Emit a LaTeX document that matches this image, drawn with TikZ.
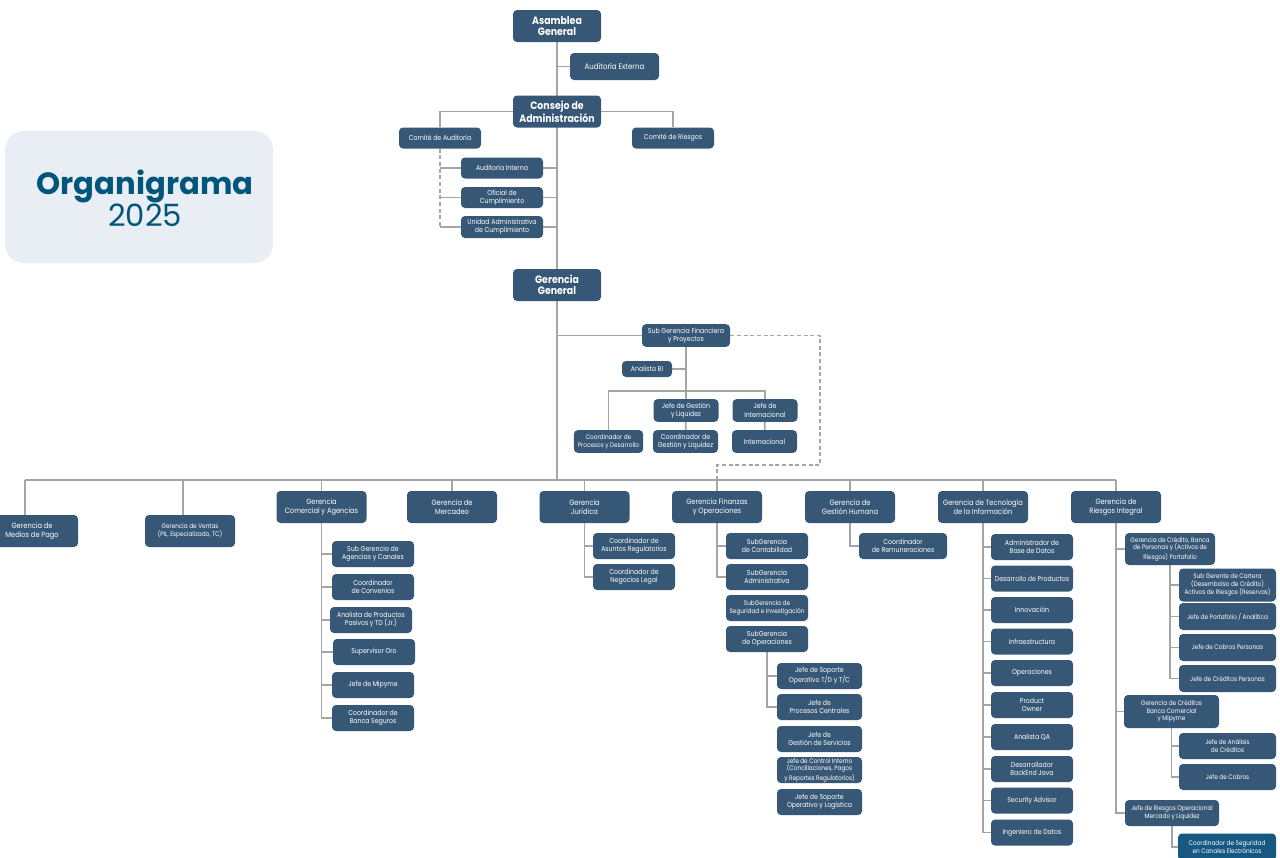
\documentclass[tikz,border=0pt]{standalone}
\usepackage{fontspec}
\setmainfont{Poppins}
\newfontfamily\narrowsans[FakeStretch=0.88]{Poppins}
\usetikzlibrary{backgrounds}
\definecolor{orgblue}{RGB}{54, 87, 118}
\definecolor{tealbox}{RGB}{22, 88, 130}
\definecolor{linegray}{RGB}{165, 165, 165}
\definecolor{titlebg}{RGB}{233, 238, 244}
\definecolor{titletext}{RGB}{0, 85, 122}

\begin{document}
\begin{tikzpicture}[
  x=0.75pt, y=-0.75pt,
  unit/.style={rectangle, rounded corners=3pt, fill=orgblue, text=white, align=center, inner sep=0.5pt, font=\narrowsans\fontsize{5.3}{6.3}\selectfont},
  fine/.style={font=\narrowsans\fontsize{4.9}{5.8}\selectfont},
  head/.style={unit, font=\narrowsans\bfseries\fontsize{8}{8.3}\selectfont, minimum width=66pt, minimum height=24pt},
  gerencia/.style={unit, font=\narrowsans\fontsize{5.7}{6.6}\selectfont, minimum width=67.5pt, minimum height=24pt},
  staff/.style={unit, minimum width=61.5pt, minimum height=19.5pt},
  link/.style={draw=linegray, line width=1.4pt},
  dashlink/.style={link, dash pattern=on 3pt off 2pt}
]
  \useasboundingbox (0,0) rectangle (1280,857);

  % title
  \node[rectangle, rounded corners=14pt, fill=titlebg, minimum width=201pt, minimum height=99pt] (titlebox) at (139,197) {};
  \node[text=titletext, align=center, font=\fontsize{23}{24}\selectfont] (title) at (145,198) {\textbf{Organigrama}\\2025};

  % governance
  \node[head] (asamblea) at (557,26) {Asamblea\\General};
  \node[unit, font=\narrowsans\fontsize{6}{7}\selectfont, minimum width=66.75pt, minimum height=20.25pt] (audext) at (614.5,66.5) {Auditoría Externa};
  \node[head] (consejo) at (557,111.5) {Consejo de\\Administración};
  \node[staff, minimum height=15.75pt] (comaud) at (440,138) {Comité de Auditoría};
  \node[staff, minimum height=15.75pt] (comries) at (673,138) {Comité de Riesgos};
  \node[staff, minimum height=15.75pt] (audint) at (502,168) {Auditoría Interna};
  \node[staff, minimum height=15.75pt] (oficial) at (502,197.5) {Oficial de\\Cumplimiento};
  \node[staff, minimum height=16.5pt] (unidad) at (502,227) {Unidad Administrativa\\de Cumplimiento};
  \node[head] (gerencia) at (557,285) {Gerencia\\General};

  % sub gerencia financiera
  \node[unit, minimum width=66pt, minimum height=17pt] (subfin) at (686,335.5) {Sub Gerencia Financiera\\y Proyectos};
  \node[unit, minimum width=37.5pt, minimum height=12pt] (analistabi) at (647,369) {Analista BI};
  \node[unit, minimum width=48.75pt, minimum height=17pt] (jefegest) at (686,410.5) {Jefe de Gestión\\y Liquidez};
  \node[unit, minimum width=48.75pt, minimum height=17pt] (jefeint) at (765,410.5) {Jefe de\\Internacional};
  \node[unit, fine, minimum width=52pt, minimum height=17pt] (coordproc) at (608.5,441.5) {Coordinador de\\Procesos y Desarrollo};
  \node[unit, minimum width=48.75pt, minimum height=17pt] (coordgest) at (685.5,441.5) {Coordinador de\\Gestión y Liquidez};
  \node[unit, minimum width=48.75pt, minimum height=17pt] (intl) at (764.5,441.5) {Internacional};
  \coordinate (finbus) at (686,391);
  \coordinate (dashturn) at (820,465);

  % gerencias
  \coordinate (bus) at (557,480);
  \coordinate (busleft) at (25,480);
  \node[gerencia, minimum width=69pt] (medios) at (32,531) {Gerencia de\\Medios de Pago};
  \node[gerencia, fine] (ventas) at (190,531) {Gerencia de Ventas\\(PIL, Especializado, TC)};
  \node[gerencia] (comercial) at (321.5,507) {Gerencia\\Comercial y Agencias};
  \node[gerencia] (mercadeo) at (452,507) {Gerencia de\\Mercadeo};
  \node[gerencia] (juridica) at (584.5,507) {Gerencia\\Jurídica};
  \node[gerencia] (finanzas) at (717,507) {Gerencia Finanzas\\y Operaciones};
  \node[gerencia] (humana) at (850,507) {Gerencia de\\Gestión Humana};
  \node[gerencia] (tecnologia) at (983,507) {Gerencia de Tecnología\\de la Información};
  \node[gerencia] (riesgos) at (1116,507) {Gerencia de\\Riesgos Integral};

  % comercial
  \node[staff] (subagen) at (373,554) {Sub Gerencia de\\Agencias y Canales};
  \node[staff] (convenios) at (373,587) {Coordinador\\de Convenios};
  \node[staff] (pasivos) at (371,620) {Analista de Productos\\Pasivos y TD (Jr.)};
  \node[staff] (oro) at (374,652) {Supervisor Oro};
  \node[staff] (mipyme) at (373,685) {Jefe de Mipyme};
  \node[staff] (bancaseg) at (373,718) {Coordinador de\\Banca Seguros};

  % juridica
  \node[staff] (asuntos) at (634,546) {Coordinador de\\Asuntos Regulatorios};
  \node[staff] (negocios) at (634,577) {Coordinador de\\Negocios Legal};

  % finanzas y operaciones
  \node[staff] (contab) at (767,546) {SubGerencia\\de Contabilidad};
  \node[staff] (admin) at (767,577) {SubGerencia\\Administrativa};
  \node[staff, fine] (seguridad) at (767,608) {SubGerencia de\\Seguridad e Investigación};
  \node[staff] (operac) at (767,639) {SubGerencia\\de Operaciones};
  \node[staff, minimum width=63.75pt] (soportetd) at (819.5,676) {Jefe de Soporte\\Operativo T/D y T/C};
  \node[staff, minimum width=63.75pt] (procesos) at (819.5,707) {Jefe de\\Procesos Centrales};
  \node[staff, minimum width=63.75pt] (servicios) at (819.5,739) {Jefe de\\Gestión de Servicios};
  \node[staff, fine, minimum width=63.75pt] (control) at (819.5,770) {Jefe de Control Interno\\(Conciliaciones, Pagos\\y Reportes Regulatorios)};
  \node[staff, minimum width=63.75pt] (logistica) at (819.5,802) {Jefe de Soporte\\Operativo y Logística};

  % gestion humana
  \node[staff, minimum width=66pt] (remun) at (903,546) {Coordinador\\de Remuneraciones};

  % tecnologia
  \node[staff] (basedatos) at (1032,547) {Administrador de\\Base de Datos};
  \node[staff] (desprod) at (1032,578.5) {Desarrollo de Productos};
  \node[staff] (innovacion) at (1032,610) {Innovación};
  \node[staff] (infra) at (1032,641.5) {Infraestructura};
  \node[staff] (operti) at (1032,673) {Operaciones};
  \node[staff] (product) at (1032,705) {Product\\Owner};
  \node[staff] (qa) at (1032,737) {Analista QA};
  \node[staff] (backend) at (1032,769) {Desarrollador\\BackEnd Java};
  \node[staff] (security) at (1032,800.5) {Security Advisor};
  \node[staff] (ingdatos) at (1032,832.5) {Ingeniero de Datos};

  % riesgos
  \node[unit, fine, minimum width=67.5pt, minimum height=24pt] (gercred) at (1170,549) {Gerencia de Crédito, Banca\\de Personas y (Activos de\\Riesgos) Portafolio};
  \node[unit, fine, minimum width=72.75pt, minimum height=24.75pt] (subcartera) at (1227.5,585) {Sub Gerente de Cartera\\(Desembolso de Crédito)\\Activos de Riesgos (Reservas)};
  \node[unit, fine, minimum width=72.75pt, minimum height=20.25pt] (portafolio) at (1227.5,616.5) {Jefe de Portafolio / Analítica};
  \node[unit, fine, minimum width=72.75pt, minimum height=20.25pt] (cobrosper) at (1227.5,647.5) {Jefe de Cobros Personas};
  \node[unit, fine, minimum width=72.75pt, minimum height=20.25pt] (creditosper) at (1227.5,678.5) {Jefe de Créditos Personas};
  \node[unit, fine, minimum width=71.25pt, minimum height=24.75pt] (gercomer) at (1171.5,711.5) {Gerencia de Créditos\\Banca Comercial\\y Mipyme};
  \node[unit, fine, minimum width=72.75pt, minimum height=19.5pt] (analisis) at (1227.5,746) {Jefe de Análisis\\de Créditos};
  \node[unit, fine, minimum width=72.75pt, minimum height=19.5pt] (cobros) at (1227.5,777) {Jefe de Cobros};
  \node[unit, fine, minimum width=70.5pt, minimum height=19.5pt] (riesgoop) at (1172,813) {Jefe de Riesgos Operacional\\Mercado y Liquidez};
  \node[unit, fine, fill=tealbox, minimum width=73.5pt, minimum height=20.25pt] (segcanales) at (1227,847) {Coordinador de Seguridad\\en Canales Electrónicos};

  \begin{scope}[on background layer]
    % trunk
    \draw[link] (asamblea) -- (gerencia);
    \draw[link] (gerencia) -- (bus);
    \draw[link] (audext.west) -- (audext.west -| asamblea.south);
    \draw[link] (consejo.west) -| (comaud.north);
    \draw[link] (consejo.east) -| (comries.north);
    \draw[link] (audint.east) -- (audint.east -| consejo.south);
    \draw[link] (oficial.east) -- (oficial.east -| consejo.south);
    \draw[link] (unidad.east) -- (unidad.east -| consejo.south);
    \draw[dashlink] (comaud.south) -- (comaud.south |- unidad.west);
    \draw[link] (audint.west) -- (audint.west -| comaud.south);
    \draw[link] (oficial.west) -- (oficial.west -| comaud.south);
    \draw[link] (unidad.west) -- (unidad.west -| comaud.south);

    % sub gerencia financiera
    \draw[link] (subfin.west) -- (subfin.west -| gerencia.south);
    \draw[dashlink] (subfin.east) -| (dashturn) -| (finanzas.north |- bus);
    \draw[link] (subfin) -- (jefegest);
    \draw[link] (analistabi.east) -- (analistabi.east -| subfin.south);
    \draw[link] (coordproc.north) |- (finbus) -| (jefeint.north);
    \draw[link] (jefegest) -- (coordgest);
    \draw[link] (jefeint) -- (intl);

    % bus to gerencias
    \draw[link] (busleft) -- (bus -| riesgos.north);
    \draw[link] (busleft) -- (busleft |- medios.north);
    \draw[link] ([xshift=-5pt]ventas.north) -- ([xshift=-5pt]ventas.north |- bus);
    \draw[link] (comercial.north) -- (comercial.north |- bus);
    \draw[link] (mercadeo.north) -- (mercadeo.north |- bus);
    \draw[link] (juridica.north) -- (juridica.north |- bus);
    \draw[link] (finanzas.north) -- (finanzas.north |- bus);
    \draw[link] (humana.north) -- (humana.north |- bus);
    \draw[link] (tecnologia.north) -- (tecnologia.north |- bus);
    \draw[link] (riesgos.north) -- (riesgos.north |- bus);

    % comercial
    \draw[link] (comercial.south) |- (bancaseg.west);
    \draw[link] (subagen.west) -- (subagen.west -| comercial.south);
    \draw[link] (convenios.west) -- (convenios.west -| comercial.south);
    \draw[link] (pasivos.west) -- (pasivos.west -| comercial.south);
    \draw[link] (oro.west) -- (oro.west -| comercial.south);
    \draw[link] (mipyme.west) -- (mipyme.west -| comercial.south);

    % juridica
    \draw[link] (juridica.south) |- (negocios.west);
    \draw[link] (asuntos.west) -- (asuntos.west -| juridica.south);

    % finanzas
    \draw[link] (finanzas.south) |- (admin.west);
    \draw[link] (contab.west) -- (contab.west -| finanzas.south);
    \draw[link] (operac.south) |- (procesos.west);
    \draw[link] (soportetd.west) -- (soportetd.west -| operac.south);

    % gestion humana
    \draw[link] (humana.south) |- (remun.west);

    % tecnologia
    \draw[link] (tecnologia.south) |- (ingdatos.west);
    \draw[link] (basedatos.west) -- (basedatos.west -| tecnologia.south);
    \draw[link] (desprod.west) -- (desprod.west -| tecnologia.south);
    \draw[link] (innovacion.west) -- (innovacion.west -| tecnologia.south);
    \draw[link] (infra.west) -- (infra.west -| tecnologia.south);
    \draw[link] (operti.west) -- (operti.west -| tecnologia.south);
    \draw[link] (product.west) -- (product.west -| tecnologia.south);
    \draw[link] (qa.west) -- (qa.west -| tecnologia.south);
    \draw[link] (backend.west) -- (backend.west -| tecnologia.south);
    \draw[link] (security.west) -- (security.west -| tecnologia.south);

    % riesgos
    \draw[link] (riesgos.south) |- (riesgoop.west);
    \draw[link] (gercred.west) -- (gercred.west -| riesgos.south);
    \draw[link] (gercomer.west) -- (gercomer.west -| riesgos.south);
    \draw[link] (gercred.south) |- (creditosper.west);
    \draw[link] (subcartera.west) -- (subcartera.west -| gercred.south);
    \draw[link] (portafolio.west) -- (portafolio.west -| gercred.south);
    \draw[link] (cobrosper.west) -- (cobrosper.west -| gercred.south);
    \draw[link] (gercomer.south) |- (cobros.west);
    \draw[link] (analisis.west) -- (analisis.west -| gercomer.south);
    \draw[link] (riesgoop.south) |- (segcanales.west);
  \end{scope}
\end{tikzpicture}
\end{document}
